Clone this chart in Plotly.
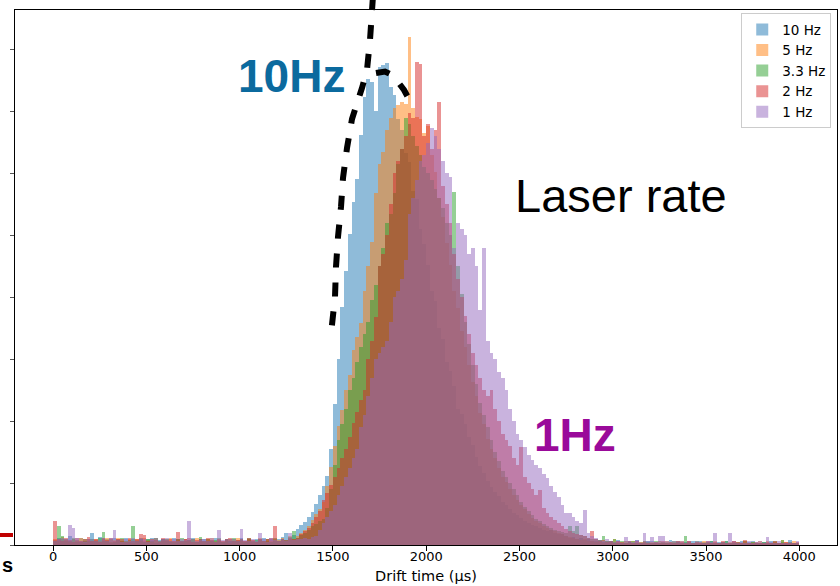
import plotly.graph_objects as go

# ---- data (histogram counts, 20 us bins from 0 to 4000 us) ----
bin_start = 0
bin_width = 20

series_names = ["10 Hz", "5 Hz", "3.3 Hz", "2 Hz", "1 Hz"]

counts_10hz = [
    0.8, 1.2, 1.0, 0.6, 1.4, 0.9, 0.5, 1.1, 0.7, 1.0,
    1.9, 0.8, 1.3, 0.6, 1.0, 0.4, 1.2, 0.9, 0.7, 1.1,
    0.5, 1.0, 0.8, 1.2, 0.6, 0.9, 1.1, 0.4, 0.8, 1.0,
    0.7, 0.5, 1.2, 0.9, 0.6, 1.0, 0.8, 1.1, 0.5, 0.9,
    1.0, 0.6, 0.8, 1.2, 0.7, 0.5, 0.9, 1.0, 0.6, 0.8,
    1.1, 0.7, 0.9, 0.5, 1.0, 0.8, 1.2, 0.6, 0.9, 0.7,
    1.0, 1.3, 1.9, 0.9, 1.6, 2.6, 3.3, 3.7, 4.6, 5.4,
    6.7, 8.0, 9.6, 11.2, 15.5, 22.8, 30.1, 38.4, 44.2, 50.3,
    55.4, 59.1, 66.2, 72.4, 75.3, 74.8, 70.1, 77.2, 77.5, 77.8,
    74.0, 72.6, 68.8, 67.1, 63.3, 61.8, 57.2, 55.9, 51.0, 48.6,
    45.3, 41.1, 39.4, 35.0, 33.2, 29.5, 28.1, 25.6, 22.0, 21.2,
    19.5, 17.4, 16.1, 14.2, 12.8, 11.6, 10.3, 9.4, 8.5, 7.9,
    7.0, 6.4, 5.8, 5.2, 4.9, 4.3, 3.9, 3.6, 3.2, 3.0,
    2.8, 2.5, 2.2, 2.4, 1.9, 1.7, 1.8, 1.4, 1.2, 1.3,
    1.0, 1.1, 0.8, 0.9, 0.7, 0.6, 0.8, 0.5, 0.7, 0.6,
    0.5, 0.8, 0.4, 0.7, 0.6, 0.3, 0.8, 0.5, 0.4, 0.6,
    0.7, 0.4, 0.6, 0.3, 0.5, 0.8, 0.4, 0.6, 0.3, 0.5,
    0.4, 0.6, 0.3, 0.7, 0.5, 0.4, 0.6, 0.3, 0.5, 0.4,
    0.6, 0.3, 0.5, 0.4, 0.7, 0.3, 0.5, 0.6, 0.4, 0.3,
    0.5, 0.4, 0.6, 0.3, 0.4, 0.5, 0.3, 0.8, 0.4, 0.3,
]

counts_5hz = [
    0.9, 0.7, 1.3, 0.8, 0.5, 1.0, 0.6, 1.2, 0.4, 0.9,
    0.6, 1.0, 0.7, 0.9, 1.2, 0.5, 0.8, 1.1, 0.6, 0.7,
    1.0, 0.4, 0.9, 0.6, 1.1, 0.8, 0.5, 1.2, 0.7, 0.6,
    0.9, 1.1, 0.6, 0.8, 0.5, 1.0, 0.7, 0.9, 1.2, 0.6,
    0.5, 0.9, 1.1, 0.6, 0.8, 0.7, 1.0, 0.4, 0.9, 1.1,
    0.7, 0.6, 1.0, 0.8, 0.5, 1.2, 0.7, 0.9, 0.6, 1.0,
    0.8, 1.1, 0.7, 1.4, 1.0, 1.5, 2.0, 2.4, 3.0, 4.0,
    5.0, 5.8, 7.0, 9.5, 12.6, 16.0, 19.2, 21.8, 25.0, 27.4,
    31.5, 33.6, 35.8, 41.0, 45.0, 49.0, 56.8, 61.6, 63.5, 67.0,
    69.0, 70.5, 71.0, 71.5, 71.3, 82.0, 70.6, 69.2, 68.8, 66.6,
    67.7, 63.0, 60.2, 56.1, 53.0, 48.7, 45.2, 41.0, 38.3, 34.6,
    32.0, 29.1, 26.4, 24.0, 21.3, 19.5, 17.2, 15.5, 14.1, 12.4,
    11.0, 10.1, 9.0, 8.1, 7.2, 6.5, 5.8, 5.0, 4.4, 3.9,
    3.5, 3.1, 2.8, 2.5, 2.2, 2.0, 1.8, 1.5, 1.3, 1.1,
    1.0, 0.8, 0.9, 0.6, 0.7, 0.5, 0.8, 0.4, 0.6, 0.5,
    0.9, 0.5, 0.3, 0.6, 0.4, 0.7, 0.3, 0.5, 0.6, 0.4,
    0.5, 0.3, 0.6, 0.4, 0.7, 0.3, 0.5, 0.4, 0.6, 0.3,
    0.6, 0.4, 0.3, 0.5, 0.7, 0.4, 0.3, 0.6, 0.4, 0.5,
    0.3, 0.5, 0.6, 0.4, 0.3, 0.7, 0.4, 0.5, 0.3, 0.6,
    0.4, 0.6, 0.3, 0.5, 0.4, 0.8, 0.5, 0.3, 0.6, 0.4,
]

counts_3hz = [
    0.7, 3.0, 1.4, 0.9, 0.6, 1.1, 0.8, 0.5, 1.0, 0.7,
    0.9, 0.6, 1.2, 2.1, 0.7, 1.0, 0.5, 0.8, 1.1, 0.6,
    0.8, 3.1, 0.6, 0.9, 0.5, 1.0, 0.7, 1.2, 0.6, 0.9,
    1.0, 0.7, 0.5, 0.9, 1.1, 0.6, 0.8, 1.0, 0.5, 1.3,
    0.7, 1.0, 0.6, 0.8, 1.2, 0.5, 0.9, 0.7, 1.1, 0.6,
    0.9, 0.5, 1.1, 0.7, 0.8, 1.0, 0.6, 0.9, 0.5, 1.2,
    0.6, 1.0, 0.8, 1.3, 2.3, 1.2, 1.6, 2.0, 2.5, 3.0,
    3.4, 3.9, 4.2, 6.0, 9.0, 13.0, 17.0, 19.5, 22.0, 25.0,
    27.0, 29.5, 32.0, 34.0, 36.0, 39.5, 42.0, 45.0, 48.0, 52.0,
    53.5, 56.8, 61.6, 64.0, 69.0, 68.0, 66.0, 64.5, 63.0, 61.0,
    60.0, 59.0, 57.5, 56.0, 54.5, 52.0, 50.0, 57.0, 45.0, 40.5,
    36.0, 32.5, 29.0, 26.0, 23.0, 21.0, 19.0, 17.0, 15.0, 13.5,
    12.0, 11.0, 10.0, 9.0, 8.0, 7.0, 6.2, 5.5, 4.8, 4.2,
    3.8, 3.4, 3.0, 2.7, 2.5, 2.3, 2.1, 2.0, 3.0, 2.2,
    3.1, 1.6, 1.4, 1.2, 1.0, 0.9, 0.8, 1.45, 0.6, 0.7,
    0.9, 0.4, 0.6, 0.3, 0.5, 0.7, 0.4, 0.3, 0.6, 0.5,
    0.4, 0.6, 0.3, 0.5, 0.4, 0.3, 0.6, 0.5, 0.4, 1.45,
    0.5, 0.3, 0.6, 0.4, 0.3, 0.5, 0.7, 0.4, 0.3, 0.5,
    0.6, 0.4, 0.3, 0.5, 0.4, 0.6, 0.3, 0.5, 0.4, 0.3,
    0.5, 0.3, 0.4, 0.6, 0.3, 0.8, 0.4, 0.5, 0.3, 0.4,
]

counts_2hz = [
    3.9, 1.0, 0.7, 1.2, 0.8, 0.5, 1.1, 0.6, 0.9, 1.3,
    0.7, 1.0, 0.5, 1.2, 0.8, 1.1, 0.6, 0.9, 1.0, 0.5,
    1.1, 0.7, 0.9, 1.7, 1.6, 0.6, 1.0, 0.8, 0.5, 1.2,
    0.8, 1.0, 0.6, 2.1, 0.7, 0.9, 1.1, 0.5, 0.8, 1.0,
    0.6, 1.2, 0.8, 0.5, 1.0, 0.7, 0.9, 1.1, 0.6, 0.8,
    1.0, 0.6, 1.2, 0.8, 0.5, 1.0, 0.7, 0.9, 1.1, 3.1,
    0.7, 1.0, 0.8, 1.2, 0.9, 1.2, 1.8, 2.2, 2.8, 3.5,
    4.5, 5.5, 7.2, 8.4, 9.7, 11.0, 12.5, 14.0, 15.5, 17.4,
    19.7, 21.5, 23.4, 25.0, 30.0, 33.0, 36.8, 45.0, 47.0, 50.0,
    55.0, 60.0, 62.0, 64.0, 66.0, 69.7, 69.0, 78.0, 77.6, 66.0,
    68.0, 64.0, 67.0, 71.5, 58.0, 55.0, 52.0, 47.0, 43.0, 40.0,
    37.0, 34.0, 31.0, 29.0, 27.0, 25.0, 24.0, 25.0, 22.0, 20.0,
    18.0, 17.0, 16.0, 14.0, 13.0, 15.8, 11.0, 10.0, 9.0, 8.0,
    8.9, 6.0, 5.2, 4.5, 4.0, 3.5, 3.0, 2.6, 2.3, 2.0,
    1.8, 1.6, 1.4, 1.2, 2.3, 0.9, 0.7, 0.8, 0.5, 0.6,
    0.4, 0.6, 0.5, 0.3, 0.7, 0.4, 0.6, 0.3, 0.5, 0.4,
    0.3, 0.5, 0.4, 0.6, 0.3, 0.5, 0.4, 0.7, 0.5, 0.3,
    0.6, 0.4, 0.5, 0.3, 0.4, 0.6, 0.3, 0.5, 0.4, 0.6,
    0.4, 0.3, 0.6, 0.5, 0.3, 0.8, 0.4, 0.3, 0.5, 0.4,
    0.3, 0.5, 0.4, 0.6, 0.4, 0.3, 0.5, 0.4, 0.3, 0.5,
]

counts_1hz = [
    0.6, 0.9, 1.2, 1.0, 3.3, 2.7, 1.1, 0.7, 0.5, 0.9,
    1.0, 0.6, 0.8, 1.1, 0.7, 1.2, 2.5, 0.8, 0.5, 1.0,
    0.7, 1.1, 0.6, 0.9, 1.0, 0.5, 0.8, 1.2, 0.6, 0.9,
    1.1, 0.6, 0.9, 0.7, 1.0, 0.8, 3.9, 1.0, 0.6, 0.8,
    0.9, 0.7, 1.1, 0.5, 2.5, 0.8, 1.0, 0.6, 0.9, 0.7,
    2.6, 0.8, 0.6, 1.0, 0.7, 2.0, 0.9, 0.5, 1.1, 0.8,
    0.7, 1.0, 0.6, 1.9, 0.8, 0.9, 1.0, 1.2, 1.0, 1.3,
    1.5, 2.5, 3.5, 4.5, 5.5, 6.5, 8.0, 9.5, 11.0, 12.5,
    14.0, 15.5, 19.0, 21.0, 24.0, 27.0, 30.0, 31.0, 32.0, 33.0,
    36.0, 40.0, 41.0, 43.0, 46.0, 53.5, 56.0, 59.0, 62.0, 63.0,
    65.0, 67.4, 66.0, 64.0, 62.0, 60.0, 59.5, 48.0, 52.0, 51.0,
    50.0, 47.0, 48.0, 45.0, 38.0, 48.0, 33.0, 31.0, 30.0, 28.0,
    27.0, 25.0, 22.0, 20.0, 18.0, 17.0, 15.8, 14.5, 13.7, 13.0,
    12.5, 11.5, 10.8, 9.5, 8.5, 7.7, 6.5, 5.2, 5.1, 4.5,
    3.8, 3.5, 5.6, 1.9, 1.5, 1.2, 0.8, 0.7, 0.9, 0.6,
    0.5, 0.7, 0.4, 1.3, 0.6, 0.5, 0.8, 0.4, 2.0, 0.6,
    1.3, 0.5, 1.45, 1.4, 0.6, 0.4, 0.7, 0.5, 0.6, 0.4,
    0.6, 0.4, 0.7, 0.5, 0.3, 0.6, 0.5, 2.0, 0.4, 0.5,
    0.4, 2.0, 0.6, 0.3, 0.5, 0.4, 0.7, 0.3, 0.5, 0.6,
    0.4, 1.3, 0.5, 0.3, 0.6, 0.4, 0.3, 0.5, 0.4, 0.7,
]

x_tick_values = [0, 500, 1000, 1500, 2000, 2500, 3000, 3500, 4000]
y_tick_values = [0, 10, 20, 30, 40, 50, 60, 70, 80]

colors = ["rgba(31,119,180,0.5)", "rgba(255,127,14,0.5)", "rgba(44,160,44,0.5)",
          "rgba(214,39,40,0.5)", "rgba(148,103,189,0.5)"]

all_counts = [counts_10hz, counts_5hz, counts_3hz, counts_2hz, counts_1hz]

# ---- figure ----
W, H = 840, 586
ML, MR, MT, MB = 15, 3, 10, 41
PW, PH = W - ML - MR, H - MT - MB


def px2paper(px, py):
    return (px - ML) / PW, (H - MB - py) / PH


fig = go.Figure()
for name, counts, col in zip(series_names, all_counts, colors):
    centers = [bin_start + bin_width * (i + 0.5) for i in range(len(counts))]
    fig.add_trace(go.Bar(
        x=centers, y=counts, width=bin_width, name=name,
        marker=dict(color=col, line=dict(width=0)),
    ))

font_dv = "DejaVu Sans, Liberation Sans, sans-serif"
font_lib = "Liberation Sans, Arial, sans-serif"

fig.update_layout(
    width=W, height=H,
    margin=dict(l=ML, r=MR, t=MT, b=MB, autoexpand=False),
    paper_bgcolor="white", plot_bgcolor="white",
    barmode="overlay", bargap=0,
    font=dict(family=font_dv, size=13, color="black"),
    xaxis=dict(
        range=[-204, 4202], tickvals=x_tick_values,
        ticks="outside", ticklen=5, tickwidth=1, tickcolor="black",
        ticklabelstandoff=-6,
        showline=True, linecolor="black", linewidth=1, mirror=True,
        showgrid=False, zeroline=False,
        tickfont=dict(family=font_dv, size=13, color="black"),
        title=dict(text="Drift time (µs)", standoff=8,
                   font=dict(family=font_dv, size=14.5, color="black")),
        automargin=False,
    ),
    yaxis=dict(
        range=[0, 86.4], tickvals=y_tick_values,
        ticks="outside", ticklen=4, tickwidth=1, tickcolor="#555555",
        showticklabels=False,
        showline=True, linecolor="black", linewidth=1, mirror=True,
        showgrid=False, zeroline=False, automargin=False,
    ),
    legend=dict(
        x=0.993, xanchor="right", y=0.994, yanchor="top",
        bgcolor="rgba(255,255,255,0.85)", bordercolor="#cccccc", borderwidth=1,
        font=dict(family=font_dv, size=13.5, color="black"),
        tracegroupgap=0,
    ),
    showlegend=True,
)

# ---- annotations ----
ax, ay = px2paper(291, 76)
fig.add_annotation(x=ax, y=ay, xref="paper", yref="paper", text="<b>10Hz</b>",
                   showarrow=False, xanchor="center", yanchor="middle",
                   font=dict(family=font_lib, size=46, color="#0b6a9e"))
ax, ay = px2paper(621, 195)
fig.add_annotation(x=ax, y=ay, xref="paper", yref="paper", text="Laser rate",
                   showarrow=False, xanchor="center", yanchor="middle",
                   font=dict(family=font_lib, size=47, color="black"))
ax, ay = px2paper(575, 435)
fig.add_annotation(x=ax, y=ay, xref="paper", yref="paper", text="<b>1Hz</b>",
                   showarrow=False, xanchor="center", yanchor="middle",
                   font=dict(family=font_lib, size=46, color="#9a0a9a"))
ax, ay = px2paper(0, 565)
fig.add_annotation(x=ax, y=ay, xref="paper", yref="paper", text="<b>s</b>",
                   showarrow=False, xanchor="left", yanchor="middle",
                   font=dict(family=font_lib, size=20, color="black"))

# ---- dashed outline (decoration) ----
main_pts = [(373, -4), (370, 40), (367, 70), (362, 88), (352, 119), (347, 148),
            (343, 178), (341, 207), (338, 237), (336, 267), (335, 297), (331, 334)]
hook_pts = [(376, 73), (385, 71.5), (392, 75), (398, 82), (404, 90), (410, 101)]


def path_of(pts):
    parts = []
    for k, (px, py) in enumerate(pts):
        xp, yp = px2paper(px, py)
        parts.append(("M" if k == 0 else "L") + f"{xp:.5f},{yp:.5f}")
    return " ".join(parts)


for pts in (main_pts, hook_pts):
    fig.add_shape(type="path", path=path_of(pts), xref="paper", yref="paper",
                  line=dict(color="black", width=6, dash="14px,15px"))

# red mark at lower left
x0, y0 = px2paper(0, 535)
x1, _ = px2paper(13, 535)
fig.add_shape(type="line", x0=x0, x1=x1, y0=y0, y1=y0, xref="paper", yref="paper",
              line=dict(color="#c00000", width=4))

fig.write_html("out.html")
